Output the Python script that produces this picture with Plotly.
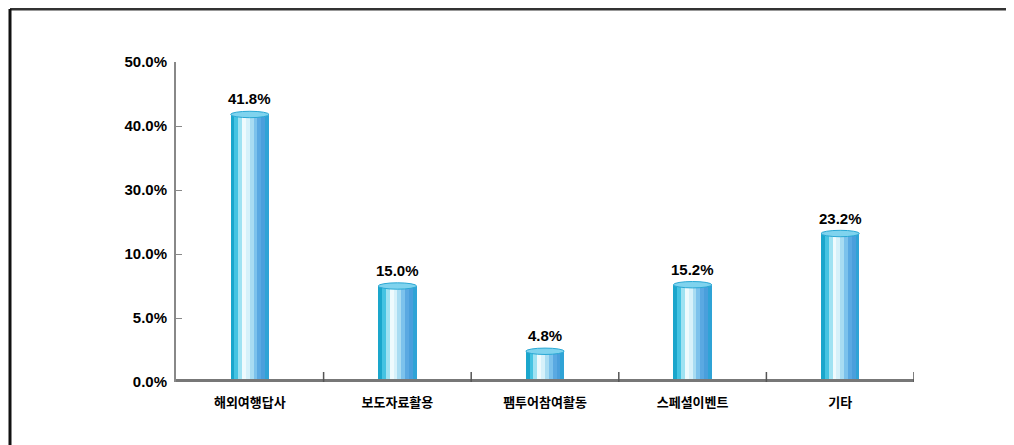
import plotly.graph_objects as go

# ---- data ----
categories = ["해외여행답사", "보도자료활용", "팸투어참여활동", "스페셜이벤트", "기타"]
values = [41.8, 15.0, 4.8, 15.2, 23.2]
value_labels = ["41.8%", "15.0%", "4.8%", "15.2%", "23.2%"]
tick_vals = [0, 10, 20, 30, 40, 50]
tick_text = ["0.0%", "5.0%", "10.0%", "30.0%", "40.0%", "50.0%"]

# ---- style ----
W, H = 1014, 445
OFF = 8  # page body margin
ML, MR, MT, MB = 176 - OFF, 108, 62 - OFF, 71
PW, PH = W - ML - MR, H - MT - MB
BAR_W = 0.26
strip_colors = ["#1aa6cc", "#45c3e2", "#9fe2f2", "#eefafd", "#d6f1fa",
                "#a8dcf2", "#7cc2ec", "#5aa9e2", "#4a9fdc", "#2fa3d6"]

x_idx = list(range(len(categories)))
fig = go.Figure()

n = len(strip_colors)
sw = BAR_W / n
for i, c in enumerate(strip_colors):
    fig.add_trace(go.Bar(
        x=x_idx, y=values, width=[sw] * len(values),
        offset=-BAR_W / 2 + i * sw,
        marker=dict(color=c, line=dict(width=0)),
        hoverinfo="skip", showlegend=False))

annotations = []
for xi, v, t in zip(x_idx, values, value_labels):
    annotations.append(dict(x=xi, y=v, xref="x", yref="y", text=t, showarrow=False,
                            yanchor="bottom", yshift=5,
                            font=dict(family="Liberation Sans", size=15, color="black", weight="bold")))

shapes = []
# cylinder caps
cap_h = 3.2 * 50 / PH
for xi, v in zip(x_idx, values):
    shapes.append(dict(type="circle", xref="x", yref="y",
                       x0=xi - BAR_W / 2, x1=xi + BAR_W / 2,
                       y0=v - cap_h, y1=v + cap_h,
                       fillcolor="#7fd3ee", line=dict(color="#2aa8d4", width=1), layer="above"))

# x-axis band
shapes.append(dict(type="rect", xref="paper", yref="y", x0=0, x1=1,
                   ysizemode="pixel", yanchor=0, y0=-6, y1=3,
                   fillcolor="#777777", line=dict(width=0), layer="above"))
# category separators
sep_h = 10 * 50 / PH
for k in range(1, len(categories) + 1):
    shapes.append(dict(type="line", xref="x", yref="y",
                       x0=k - 0.5, x1=k - 0.5, y0=0, y1=sep_h,
                       line=dict(color="#555555", width=1.5), layer="above"))

# outer frame (top and left lines)
fx = (10 - OFF - ML) / PW
fy = (MT + PH - (9 - OFF)) / PH
shapes.append(dict(type="line", xref="paper", yref="paper",
                   x0=fx, x1=(W + 20 - ML) / PW, y0=fy, y1=fy,
                   line=dict(color="#333333", width=3)))
shapes.append(dict(type="line", xref="paper", yref="paper",
                   x0=fx, x1=fx, y0=fy, y1=-(MB + 20) / PH,
                   line=dict(color="#111111", width=3)))

fig.update_layout(
    width=W, height=H,
    margin=dict(l=ML, r=MR, t=MT, b=MB),
    paper_bgcolor="white", plot_bgcolor="white",
    barmode="overlay", bargap=0,
    shapes=shapes, annotations=annotations,
    xaxis=dict(tickmode="array", tickvals=x_idx, ticktext=categories,
               range=[-0.5, len(categories) - 0.5],
               showgrid=False, zeroline=False, showline=False, ticks="",
               tickfont=dict(family="Noto Sans CJK KR", size=13, color="black", weight="bold"),
               ticklabelstandoff=11),
    yaxis=dict(tickmode="array", tickvals=tick_vals, ticktext=tick_text,
               range=[0, 50], showgrid=False, zeroline=False,
               showline=True, linecolor="#888888", linewidth=2,
               ticks="inside", ticklen=6, tickcolor="#888888",
               ticklabelstandoff=4,
               tickfont=dict(family="Liberation Sans", size=15, color="black", weight="bold")),
)

fig.write_html("out.html")
